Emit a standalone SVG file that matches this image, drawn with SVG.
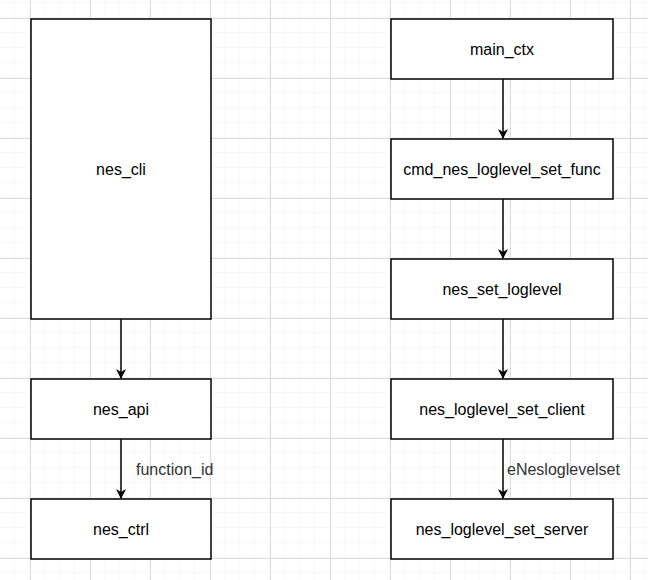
<svg xmlns="http://www.w3.org/2000/svg" width="648" height="580" viewBox="0 0 648 580">
<defs>
<pattern id="minor" width="15" height="15" patternUnits="userSpaceOnUse" x="0" y="3"><path d="M15 0V15M0 15H15" fill="none" stroke="#f0f0f0" stroke-width="1"/></pattern>
<pattern id="major" width="60" height="60" patternUnits="userSpaceOnUse" x="30" y="18"><path d="M0.5 0V60M0 0.5H60" fill="none" stroke="#dddddd" stroke-width="1"/></pattern>
<marker id="ah" viewBox="0 0 10 10" refX="9" refY="5" markerWidth="10" markerHeight="10" markerUnits="userSpaceOnUse" orient="auto"><path d="M0 0L10 5L0 10L3 5Z" fill="#000"/></marker>
</defs>
<style>
.n{fill:#fff;stroke:#000;stroke-width:1.5}
.t{font-family:"Liberation Sans",Arial,sans-serif;font-size:16px;fill:#000;text-anchor:middle;dominant-baseline:central}
.e{stroke:#000;stroke-width:1.5;fill:none;marker-end:url(#ah)}
.l{font-family:"Liberation Sans",Arial,sans-serif;font-size:16px;fill:#333}
</style>
<rect width="648" height="580" fill="#fff"/>
<rect width="648" height="580" fill="url(#minor)"/>
<rect width="648" height="580" fill="url(#major)"/>
<g id="connectors">
<path class="e" d="M121 319V378"/>
<path class="e" d="M121 439V498"/>
<path class="e" d="M503 79V138"/>
<path class="e" d="M503 199V258"/>
<path class="e" d="M503 319V378"/>
<path class="e" d="M503 439V498"/>
<text class="l" x="136" y="475">function_id</text>
<text class="l" x="507" y="475">eNesloglevelset</text>
</g>
<g id="nes_cli"><rect class="n" x="31" y="19" width="180" height="300"/><text class="t" x="121" y="169">nes_cli</text></g>
<g id="nes_api"><rect class="n" x="31" y="379" width="180" height="60"/><text class="t" x="121" y="409">nes_api</text></g>
<g id="nes_ctrl"><rect class="n" x="31" y="499" width="180" height="60"/><text class="t" x="121" y="529">nes_ctrl</text></g>
<g id="main_ctx"><rect class="n" x="391" y="19" width="222" height="60"/><text class="t" x="502" y="49">main_ctx</text></g>
<g id="cmd"><rect class="n" x="391" y="139" width="222" height="60"/><text class="t" x="502" y="169">cmd_nes_loglevel_set_func</text></g>
<g id="nes_set_loglevel"><rect class="n" x="391" y="259" width="222" height="60"/><text class="t" x="502" y="289">nes_set_loglevel</text></g>
<g id="client"><rect class="n" x="391" y="379" width="222" height="60"/><text class="t" x="502" y="409">nes_loglevel_set_client</text></g>
<g id="server"><rect class="n" x="391" y="499" width="222" height="60"/><text class="t" x="502" y="529">nes_loglevel_set_server</text></g>
</svg>
